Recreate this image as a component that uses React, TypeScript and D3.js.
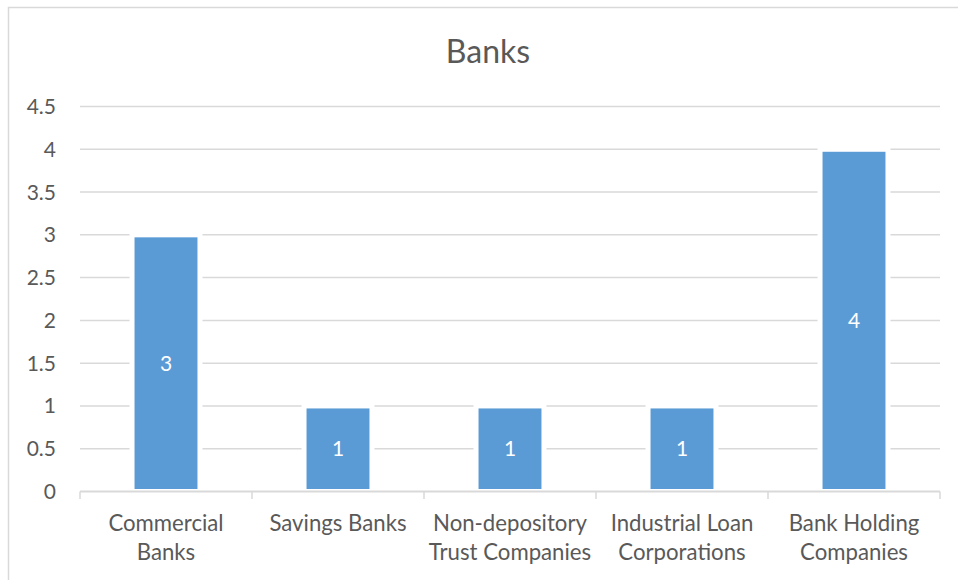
import React from "react";
import * as d3 from "d3";

const categories: string[][] = [
  ["Commercial", "Banks"],
  ["Savings Banks"],
  ["Non-depository", "Trust Companies"],
  ["Industrial Loan", "Corporations"],
  ["Bank Holding", "Companies"],
];
const values: number[] = [3, 1, 1, 1, 4];
const yTicks: number[] = [0, 0.5, 1, 1.5, 2, 2.5, 3, 3.5, 4, 4.5];
const title = "Banks";

const W = 958;
const H = 580;
const left = 80;
const right = 940;
const top = 106.5;
const bottom = 491.5;
const FONT = "Lato, 'Noto Sans', sans-serif";
const TEXT = "#595959";
const GRID = "#d9d9d9";
const BAR = "#5B9BD5";

export default function App() {
  const x = d3
    .scaleBand<number>()
    .domain(d3.range(categories.length))
    .range([left, right])
    .paddingInner(0.605)
    .paddingOuter(0.3025);
  const step = (right - left) / categories.length;
  const y = d3.scaleLinear().domain([0, 4.5]).range([bottom, top]);
  const boundaries = d3.range(categories.length + 1).map((i) => left + i * step);

  return (
    <svg
      width={W}
      height={H}
      style={{ position: "absolute", left: 0, top: 0, background: "#fff" }}
    >
      <rect x={0} y={0} width={W} height={H} fill="#fff" />
      <rect x={8.5} y={7.5} width={960} height={590} fill="none" stroke={GRID} strokeWidth={1.5} />
      <text
        x={488}
        y={62.5}
        textAnchor="middle"
        fontFamily={FONT}
        fontSize={32}
        fill={TEXT}
      >
        {title}
      </text>
      {yTicks.map((t) => (
        <g key={t}>
          {t !== 0 && (
            <line x1={left} x2={right} y1={y(t)} y2={y(t)} stroke={GRID} strokeWidth={1.5} />
          )}
          <text
            x={56}
            y={y(t) + 7.5}
            textAnchor="end"
            fontFamily={FONT}
            fontSize={21}
            fill={TEXT}
          >
            {t}
          </text>
        </g>
      ))}
      {values.map((v, i) => (
        <g key={i}>
          <rect
            x={x(i)!}
            y={y(v)}
            width={x.bandwidth()}
            height={y(0) - y(v)}
            fill={BAR}
            stroke="#fff"
            strokeWidth={5}
          />
          <text
            x={x(i)! + x.bandwidth() / 2}
            y={(y(v) + y(0)) / 2 + 7.5}
            textAnchor="middle"
            fontFamily={FONT}
            fontSize={21}
            fill="#fff"
          >
            {v}
          </text>
        </g>
      ))}
      <line x1={left} x2={right} y1={y(0)} y2={y(0)} stroke={GRID} strokeWidth={2} />
      {boundaries.map((b, i) => (
        <line key={i} x1={b} x2={b} y1={y(0)} y2={y(0) + 7.5} stroke={GRID} strokeWidth={1.5} />
      ))}
      {categories.map((lines, i) => (
        <text
          key={i}
          x={x(i)! + x.bandwidth() / 2}
          y={530.7}
          textAnchor="middle"
          fontFamily={FONT}
          fontSize={22.2}
          fill={TEXT}
        >
          {lines.map((l, j) => (
            <tspan key={j} x={x(i)! + x.bandwidth() / 2} dy={j === 0 ? 0 : 29.3}>
              {l}
            </tspan>
          ))}
        </text>
      ))}
    </svg>
  );
}
